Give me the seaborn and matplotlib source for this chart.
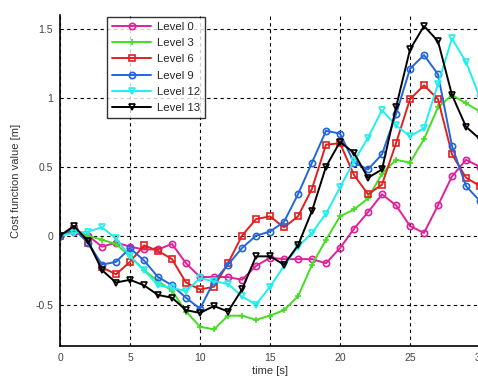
import numpy as np
import pandas as pd
import matplotlib
matplotlib.use('Agg')
import matplotlib.pyplot as plt
import seaborn as sns

# values, one point per second
time = list(range(31))
level0 = [0, 0.03, 0.0, -0.08, -0.05, -0.08, -0.1, -0.1, -0.06, -0.2, -0.3, -0.3, -0.3, -0.32, -0.22, -0.16,
          -0.17, -0.17, -0.17, -0.2, -0.09, 0.05, 0.17, 0.3, 0.22, 0.07, 0.02, 0.22, 0.43, 0.55, 0.5]
level3 = [0, 0.03, 0.0, -0.03, -0.06, -0.15, -0.25, -0.33, -0.4, -0.55, -0.66, -0.68, -0.58, -0.58, -0.61, -0.58,
          -0.54, -0.44, -0.21, -0.03, 0.14, 0.19, 0.27, 0.45, 0.55, 0.53, 0.7, 0.93, 1.02, 0.96, 0.9]
level6 = [0, 0.05, -0.05, -0.23, -0.28, -0.19, -0.07, -0.11, -0.17, -0.34, -0.39, -0.37, -0.2, 0.0, 0.12, 0.14,
          0.06, 0.14, 0.34, 0.66, 0.67, 0.44, 0.3, 0.37, 0.67, 0.99, 1.09, 0.99, 0.59, 0.42, 0.36]
level9 = [0, 0.05, -0.05, -0.21, -0.19, -0.09, -0.18, -0.3, -0.36, -0.45, -0.53, -0.33, -0.21, -0.09, 0.0, 0.03,
          0.1, 0.3, 0.53, 0.76, 0.74, 0.53, 0.48, 0.59, 0.88, 1.21, 1.31, 1.17, 0.65, 0.36, 0.25]
level12 = [0, 0.02, 0.03, 0.06, -0.02, -0.15, -0.25, -0.36, -0.38, -0.4, -0.31, -0.33, -0.35, -0.44, -0.5, -0.37,
           -0.22, -0.08, 0.02, 0.16, 0.35, 0.54, 0.71, 0.91, 0.8, 0.72, 0.78, 1.1, 1.43, 1.26, 1.0]
level13 = [0, 0.07, -0.04, -0.25, -0.34, -0.32, -0.36, -0.43, -0.45, -0.54, -0.56, -0.51, -0.55, -0.39, -0.15, -0.15,
           -0.21, -0.07, 0.18, 0.5, 0.68, 0.6, 0.42, 0.48, 0.93, 1.35, 1.52, 1.41, 1.02, 0.79, 0.7]

names = ['Level 0', 'Level 3', 'Level 6', 'Level 9', 'Level 12', 'Level 13']
series = [level0, level3, level6, level9, level12, level13]

colors = ['#E0209A', '#44DD22', '#E02020', '#2266DD', '#22EEEE', '#000000']
marks = ['o', '+', 's', 'o', 'v', 'v']

sns.set_style('white')
plt.rcParams['font.family'] = ['Liberation Sans', 'DejaVu Sans']

fig = plt.figure(figsize=(4.78, 3.85), dpi=100)
ax = fig.add_axes([60 / 478, 39 / 385, 420 / 478, 331 / 385])

for name, s, c, m in zip(names, series, colors, marks):
    d = pd.DataFrame({'time': time, 'value': s})
    sns.lineplot(data=d, x='time', y='value', color=c, marker=m, linewidth=1.4,
                 markersize=4.5, markerfacecolor='none', markeredgecolor=c,
                 markeredgewidth=1.2, label=name, ax=ax)

ax.set_xlim(0, 30)
ax.set_ylim(-0.8, 1.6)
ax.set_xticks([0, 5, 10, 15, 20, 25, 30])
ax.set_yticks([-0.5, 0, 0.5, 1, 1.5])
ax.set_yticklabels(['-0.5', '0', '0.5', '1', '1.5'])
ax.grid(True, color='k', linestyle=(0, (3, 3)), linewidth=0.8)
ax.tick_params(labelsize=7.5, labelcolor='#444444', length=0, pad=5)
for side in ['top', 'right']:
    ax.spines[side].set_visible(False)
for side in ['left', 'bottom']:
    ax.spines[side].set_color('k')
    ax.spines[side].set_linewidth(1.2)
ax.set_xlabel('time [s]', fontsize=8, color='#333333', labelpad=2)
ax.set_ylabel('Cost function value [m]', fontsize=8, color='#333333', labelpad=10)

handles, labels = ax.get_legend_handles_labels()
leg = ax.legend(handles, labels, loc='upper left', bbox_to_anchor=(0.112, 0.995), borderaxespad=0,
                fontsize=8.2, frameon=True, fancybox=False, edgecolor='k', handlelength=3.4,
                handletextpad=0.5, labelspacing=0.55, borderpad=0.45)
leg.get_frame().set_linewidth(1.0)

fig.savefig('out.png', dpi=100)
